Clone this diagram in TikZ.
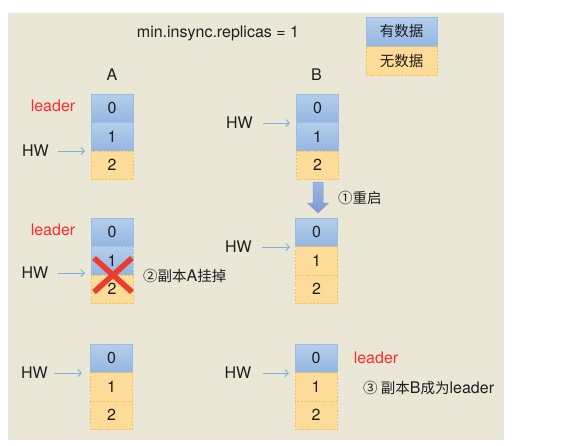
\documentclass[tikz,border=0pt]{standalone}
\usepackage{fontspec}
\setmainfont{TeX Gyre Heros}
\newfontfamily\cjk{Noto Sans CJK SC}
\usetikzlibrary{arrows.meta}
\definecolor{bgc}{HTML}{EBE7D7}
\definecolor{bluetop}{HTML}{B5CEEC}
\definecolor{bluebot}{HTML}{93B6E0}
\definecolor{blueline}{HTML}{9CBDE3}
\definecolor{orangefill}{HTML}{FDDB98}
\definecolor{orangeline}{HTML}{F5C15C}
\definecolor{hwblue}{HTML}{7FB1DD}
\definecolor{leaderred}{HTML}{FF2B2B}
\definecolor{xred}{HTML}{EE3B30}
\definecolor{txt}{HTML}{1E1E1E}
\definecolor{bigtop}{HTML}{9DB6E4}
\definecolor{bigbot}{HTML}{8098D2}
\begin{document}
\begin{tikzpicture}[x=1pt,y=-1pt,
  every node/.style={text=txt, font=\fontsize{16}{18}\selectfont, inner sep=0pt},
  cell/.style={minimum width=42pt, minimum height=28.5pt, inner sep=0pt},
  has/.style={cell, draw=blueline, line width=0.8pt, top color=bluetop, bottom color=bluebot},
  hasdash/.style={cell, draw=blueline, line width=0.8pt, dash pattern=on 2pt off 1.5pt, top color=bluetop, bottom color=bluebot},
  none/.style={cell, draw=orangeline, line width=0.8pt, dash pattern=on 2pt off 1.5pt, fill=orangefill},
  leg/.style={minimum width=71pt, minimum height=29pt, inner sep=0pt, font=\cjk\fontsize{14.5}{17}\selectfont},
  hwarr/.style={draw=hwblue, line width=1pt, -{Straight Barb[length=3.5pt,width=7pt]}},
  leaderlbl/.style={text=leaderred},
  xline/.style={draw=xred, line width=5.5pt}
]
\useasboundingbox (0,0) rectangle (562,445);
\fill[bgc] (8,13) rectangle (504,440);

% title, legend
\node (title) at (218,33) {min.insync.replicas = 1};
\node[leg, draw=blueline, line width=0.8pt, top color=bluetop, bottom color=bluebot] (lhas) at (401.5,31.5) {有数据};
\node[leg, draw=orangeline, line width=0.8pt, dash pattern=on 2pt off 1.5pt, fill=orangefill, anchor=north] (lnone) at (lhas.south) {无数据};

\node (lA) at (112,75) {A};
\node (lB) at (316.5,75) {B};

% ---- row 1 ----
\node[has]  (A10) at (112,108.25) {0};
\node[has]  (A11) at (112,136.75) {1};
\node[none] (A12) at (112,165.25) {2};
\node[leaderlbl] (ldA1) at (53,106) {leader};
\node (hwA1) at (35.5,151) {HW};
\coordinate (pA1) at (85,151);
\draw[hwarr] (58,151) -- (pA1);

\node[has]  (B10) at (317.5,108.25) {0};
\node[has]  (B11) at (317.5,136.75) {1};
\node[none] (B12) at (317.5,165.25) {2};
\node (hwB1) at (239.5,123) {HW};
\coordinate (pB1) at (290,123);
\draw[hwarr] (263,123) -- (pB1);

% restart arrow
\shade[top color=bigtop, bottom color=bigbot, draw=bigbot, line width=0.5pt]
  (313,182) -- (323,182) -- (323,203) -- (328.5,203) -- (318,213) -- (307.5,203) -- (313,203) -- cycle;
\node[anchor=west, font=\cjk\fontsize{14.5}{17}\selectfont] (st1) at (338,198) {①重启};

% ---- row 2 ----
\node[has]      (A20) at (112,232.25) {0};
\node[hasdash]  (A21) at (112,260.75) {1};
\node[none]     (A22) at (112,289.25) {2};
\node[leaderlbl] (ldA2) at (53,230) {leader};
\node (hwA2) at (35,273) {HW};
\coordinate (pA2) at (85,273);
\draw[hwarr] (58,273) -- (pA2);
\draw[xline] (94,258) -- (132,292);
\draw[xline] (94,292) -- (132,258);
\node[anchor=west] (st2) at (143,276) {{\cjk\fontsize{14.5}{17}\selectfont ②副本}A{\cjk\fontsize{14.5}{17}\selectfont 挂掉}};

\node[has]  (B20) at (316.5,232.25) {0};
\node[none] (B21) at (316.5,260.75) {1};
\node[none] (B22) at (316.5,289.25) {2};
\node (hwB2) at (238.5,247) {HW};
\coordinate (pB2) at (290,247);
\draw[hwarr] (262,247) -- (pB2);

% ---- row 3 ----
\node[has]  (A30) at (111.5,358.25) {0};
\node[none] (A31) at (111.5,386.75) {1};
\node[none] (A32) at (111.5,415.25) {2};
\node (hwA3) at (34.5,373) {HW};
\coordinate (pA3) at (82,373);
\draw[hwarr] (54,373) -- (pA3);

\node[has]  (B30) at (316,358.25) {0};
\node[none] (B31) at (316,386.75) {1};
\node[none] (B32) at (316,415.25) {2};
\node (hwB3) at (238,373) {HW};
\coordinate (pB3) at (289,373);
\draw[hwarr] (263,373) -- (pB3);
\node[leaderlbl] (ldB3) at (376,358) {leader};
\node[anchor=west] (st3) at (363,388) {{\cjk\fontsize{14.5}{17}\selectfont ③ 副本}B{\cjk\fontsize{14.5}{17}\selectfont 成为}leader};
\end{tikzpicture}
\end{document}
